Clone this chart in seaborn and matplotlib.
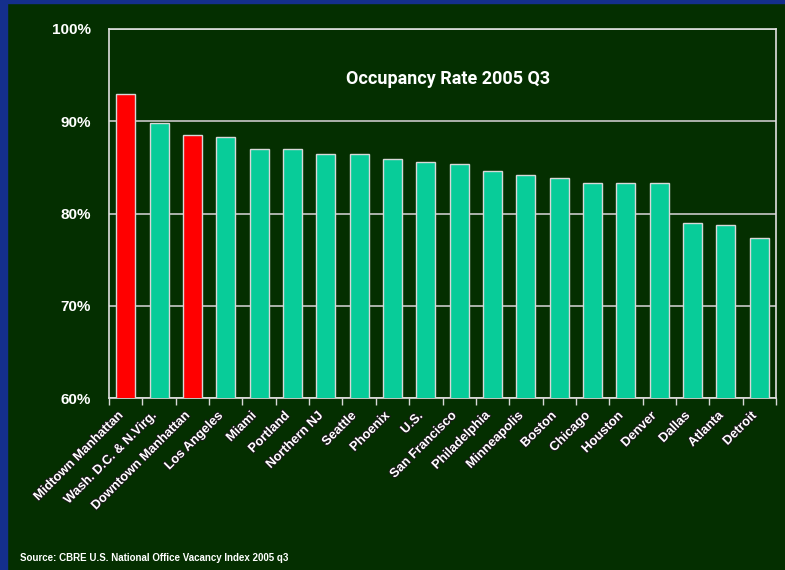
import matplotlib
matplotlib.use('Agg')
import matplotlib.pyplot as plt
import matplotlib.patheffects as pe
from matplotlib.patches import Rectangle
import seaborn as sns
import pandas as pd
import numpy as np

# Data
cities = ['Midtown Manhattan', 'Wash. D.C. & N.Virg.', 'Downtown Manhattan', 'Los Angeles',
          'Miami', 'Portland', 'Northern NJ', 'Seattle', 'Phoenix', 'U.S.', 'San Francisco',
          'Philadelphia', 'Minneapolis', 'Boston', 'Chicago', 'Houston', 'Denver', 'Dallas',
          'Atlanta', 'Detroit']
occupancy = [92.9, 89.8, 88.5, 88.3, 87.0, 87.0, 86.4, 86.4, 85.9, 85.6, 85.4,
             84.6, 84.2, 83.9, 83.3, 83.3, 83.3, 79.0, 78.7, 77.3]
highlight = ['Manhattan', 'Other', 'Manhattan'] + ['Other'] * 17
y_ticks = [60, 70, 80, 90, 100]
y_labels = ['60%', '70%', '80%', '90%', '100%']

df = pd.DataFrame({'city': cities, 'rate': occupancy, 'group': highlight})

bg = '#042f00'
sns.set_style('dark')
plt.rcParams['font.family'] = ['Liberation Sans', 'DejaVu Sans']

fig = plt.figure(figsize=(7.85, 5.70), dpi=100)
fig.patch.set_facecolor(bg)
# blue slide border
fig.patches.append(Rectangle((0, 0), 7 / 785, 1, transform=fig.transFigure, color='#142f8c', zorder=0))
fig.patches.append(Rectangle((0, 1 - 3 / 570), 1, 3 / 570, transform=fig.transFigure, color='#142f8c', zorder=0))

ax = fig.add_axes([109 / 785, 1 - 398 / 570, 667 / 785, 369 / 570])
ax.set_facecolor(bg)

sns.barplot(data=df, x='city', y='rate', hue='group', dodge=False,
            palette={'Manhattan': '#ff0000', 'Other': '#08cc99'}, saturation=1,
            width=0.57, edgecolor='#d8d8d8', linewidth=1.0, legend=False, ax=ax, zorder=3)

ax.set_ylim(60, 100)
ax.set_xlim(-0.5, len(cities) - 0.5)
ax.set_yticks(y_ticks)
ax.set_yticklabels(y_labels, fontsize=11, fontweight='bold', color='white')
ax.tick_params(axis='y', length=0, pad=13)
ax.yaxis.grid(True, color='#c8c8c8', linewidth=1.2, zorder=0)
ax.xaxis.grid(False)
ax.set_axisbelow(True)

# category labels, nudged a little left of the bar centres like the original
ax.set_xticks(range(len(cities)))
ax.set_xticklabels([])
ax.tick_params(axis='x', which='major', length=0)
for i, name in enumerate(cities):
    t = ax.annotate(name, xy=(i, 0), xycoords=ax.get_xaxis_transform(),
                    xytext=(-9, -12), textcoords='offset pixels',
                    rotation=45, ha='right', va='top', rotation_mode='anchor',
                    fontsize=9.3, fontweight='bold', color='white', annotation_clip=False)
    t.set_path_effects([pe.withStroke(linewidth=1.5, foreground='#1a1a1a')])
ax.set_xticks(np.arange(-0.5, len(cities), 1), minor=True)
ax.tick_params(axis='x', which='minor', bottom=True, length=5, color='#d8d8d8', width=1)

ax.set_xlabel('')
ax.set_ylabel('')
for side in ['left', 'right', 'top', 'bottom']:
    ax.spines[side].set_visible(True)
    ax.spines[side].set_color('#e0e0e0')
    ax.spines[side].set_linewidth(1.2)

ax.text(0.508, 0.865, 'Occupancy Rate 2005 Q3', transform=ax.transAxes, ha='center', va='center',
        fontsize=13, fontweight='bold', color='white',
        family=['Liberation Sans Narrow', 'Roboto', 'DejaVu Sans'])

fig.text(20 / 785, 1 - 558 / 570, 'Source: CBRE U.S. National Office Vacancy Index 2005 q3',
         fontsize=7, fontweight='bold', color='white', ha='left', va='center',
         family=['Liberation Sans Narrow', 'Liberation Sans', 'DejaVu Sans'])

fig.savefig('out.png', dpi=100, facecolor=bg)
